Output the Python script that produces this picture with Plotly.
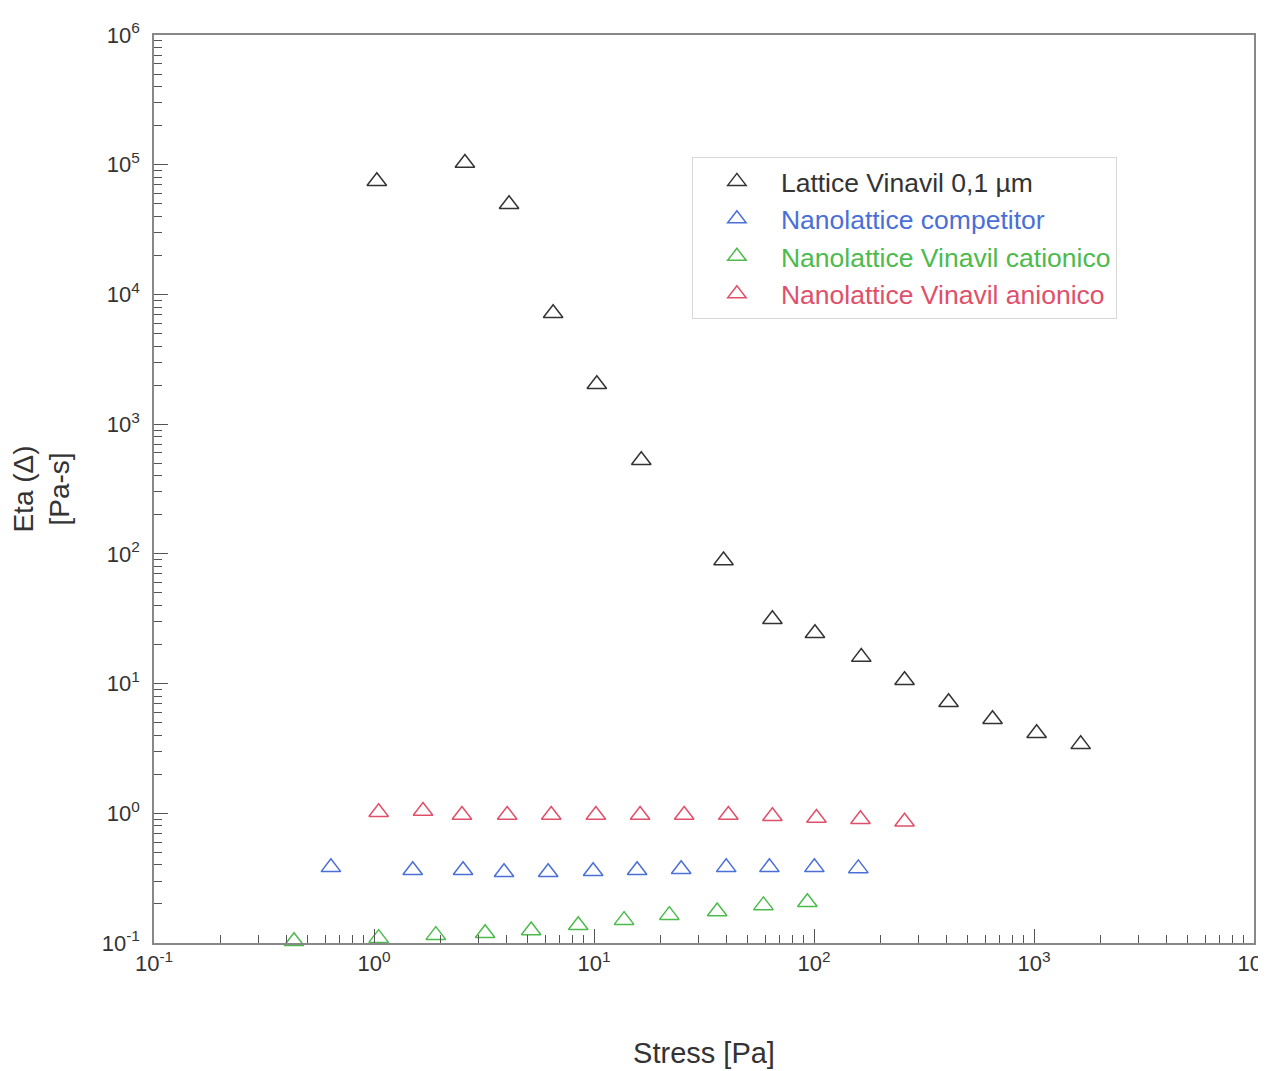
import plotly.graph_objects as go

# ---- data ----
lattice_x = [1.03, 2.59, 4.11, 6.52, 10.3, 16.4, 38.8, 64.7, 101, 164, 258, 409, 648, 1028, 1630]
lattice_y = [74600, 103000, 49600, 7160, 2030, 527, 89, 31.3, 24.4, 16.0, 10.6, 7.18, 5.31, 4.14, 3.40]

competitor_x = [0.637, 1.50, 2.54, 3.90, 6.19, 9.91, 15.7, 24.9, 39.9, 62.7, 100.4, 159]
competitor_y = [0.383, 0.364, 0.364, 0.351, 0.351, 0.357, 0.364, 0.370, 0.383, 0.383, 0.383, 0.376]

cationico_x = [0.433, 1.05, 1.91, 3.20, 5.18, 8.48, 13.7, 22.0, 36.3, 58.9, 93.3]
cationico_y = [0.103, 0.109, 0.115, 0.119, 0.125, 0.137, 0.150, 0.164, 0.175, 0.195, 0.206]

anionico_x = [1.05, 1.67, 2.51, 4.03, 6.39, 10.2, 16.2, 25.7, 40.8, 64.7, 102.6, 162.6, 258]
anionico_y = [1.02, 1.04, 0.97, 0.97, 0.97, 0.97, 0.97, 0.97, 0.97, 0.95, 0.92, 0.90, 0.86]

series_names = ["Lattice Vinavil 0,1 µm", "Nanolattice competitor",
                "Nanolattice Vinavil cationico", "Nanolattice Vinavil anionico"]
series_colors = ["#333333", "#4a6fd6", "#4cbb4c", "#e0506a"]

x_tickvals = [0.1, 1, 10, 100, 1000, 10000]
x_ticktext = ["10<sup>-1</sup>", "10<sup>0</sup>", "10<sup>1</sup>", "10<sup>2</sup>",
              "10<sup>3</sup>", "10<sup>4</sup>"]
y_tickvals = [0.1, 1, 10, 100, 1000, 10000, 100000, 1000000]
y_ticktext = ["10<sup>-1</sup>", "10<sup>0</sup>", "10<sup>1</sup>", "10<sup>2</sup>",
              "10<sup>3</sup>", "10<sup>4</sup>", "10<sup>5</sup>", "10<sup>6</sup>"]

FONT = "Liberation Sans, Arial, sans-serif"

fig = go.Figure()
all_data = [(lattice_x, lattice_y), (competitor_x, competitor_y),
            (cationico_x, cationico_y), (anionico_x, anionico_y)]
for (xs, ys), name, col in zip(all_data, series_names, series_colors):
    fig.add_trace(go.Scatter(
        x=xs, y=ys, mode="markers",
        name=f'<span style="color:{col}">{name}</span>',
        marker=dict(symbol="triangle-up-open", size=17, color=col,
                    line=dict(width=1.5, color=col)),
        cliponaxis=False,
    ))

def minor_vals(lo, hi):
    vals = []
    for e in range(lo, hi):
        for m in range(2, 10):
            vals.append(m * 10.0 ** e)
    return vals

fig.update_layout(
    width=1266, height=1071,
    margin=dict(l=146, r=20, t=27, b=136, autoexpand=False),
    paper_bgcolor="white", plot_bgcolor="white",
    font=dict(family=FONT, color="#333333"),
    showlegend=True,
    legend=dict(
        x=0.489, y=0.866, xanchor="left", yanchor="top",
        bgcolor="white", bordercolor="#d8d8d8", borderwidth=1,
        font=dict(family=FONT, size=26.5),
        itemwidth=78,
    ),
    xaxis=dict(
        type="log", range=[-1, 4], automargin=False,
        tickmode="array", tickvals=x_tickvals, ticktext=x_ticktext,
        ticks="inside", ticklen=14, tickwidth=1.2, tickcolor="#555",
        minor=dict(tickvals=minor_vals(-1, 4), ticks="inside", ticklen=8,
                   tickcolor="#555", tickwidth=1, showgrid=False),
        showgrid=False, zeroline=False,
        showline=True, linecolor="#888", linewidth=1.5, mirror=True,
        tickfont=dict(size=22, color="#333"),
        ticklabeloverflow="allow",
        title=dict(text="Stress [Pa]", font=dict(size=29, color="#333"), standoff=68),
    ),
    yaxis=dict(
        type="log", range=[-1, 6], automargin=False,
        tickmode="array", tickvals=y_tickvals, ticktext=y_ticktext,
        ticks="inside", ticklen=14, tickwidth=1.2, tickcolor="#555",
        minor=dict(tickvals=minor_vals(-1, 6), ticks="inside", ticklen=8,
                   tickcolor="#555", tickwidth=1, showgrid=False),
        showgrid=False, zeroline=False,
        showline=True, linecolor="#888", linewidth=1.5, mirror=True,
        tickfont=dict(size=22, color="#333"),
        ticklabelstandoff=8,
        ticklabeloverflow="allow",
        title=dict(text="Eta (Δ)<br>[Pa-s]", font=dict(size=28, color="#333"), standoff=30),
    ),
)

fig.write_html("out.html")
